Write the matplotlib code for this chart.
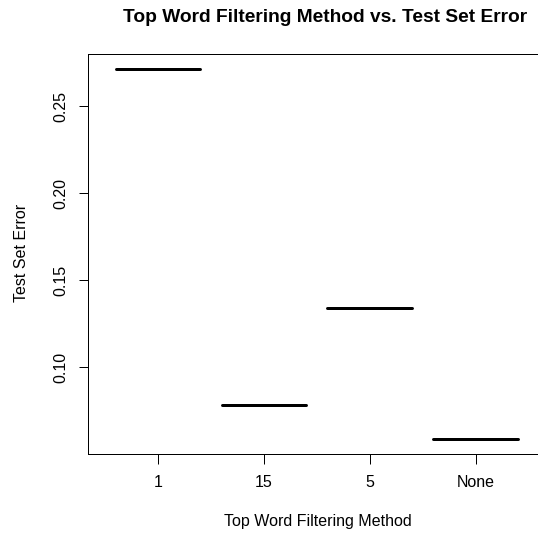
import matplotlib
matplotlib.use("Agg")
import matplotlib.pyplot as plt
import numpy as np

categories = ["1", "15", "5", "None"]
test_error = [0.2714, 0.0783, 0.1343, 0.0588]
y_ticks = [0.10, 0.15, 0.20, 0.25]
y_tick_labels = ["0.10", "0.15", "0.20", "0.25"]

plt.rcParams['font.family'] = ['Liberation Sans', 'DejaVu Sans']

W, H = 538, 537
dpi = 100
fig = plt.figure(figsize=(W / dpi, H / dpi), dpi=dpi)
px = 72.0 / dpi  # points per pixel

left, right, top, bottom = 88.3, 545.5, 54.3, 453.7
ax = fig.add_axes([left / W, 1 - bottom / H, (right - left) / W, (bottom - top) / H])

pos = np.arange(1, len(categories) + 1)
half = 0.4
for p, v in zip(pos, test_error):
    ax.plot([p - half, p + half], [v, v], color="black", lw=3 * px,
            solid_capstyle="round")

n = len(categories)
ax.set_xlim(0.5 - 0.04 * n, n + 0.5 + 0.04 * n)
lo, hi = min(test_error), max(test_error)
r = hi - lo
ax.set_ylim(lo - 0.04 * r, hi + 0.04 * r)

ax.set_xticks(pos)
ax.set_xticklabels(categories)
ax.set_yticks(y_ticks)
ax.set_yticklabels(y_tick_labels, rotation=90, va="center")

fs = 16 * px
ax.tick_params(axis="x", length=10 * px, width=1 * px, pad=11 * px, labelsize=fs)
ax.tick_params(axis="y", length=9 * px, width=1 * px, pad=11 * px, labelsize=fs)
for s in ax.spines.values():
    s.set_linewidth(1 * px)
    s.set_color("black")

fig.text(318.3 / W, 1 - 521.7 / H, "Top Word Filtering Method", ha="center", va="center", fontsize=fs)
fig.text(21.7 / W, 1 - 252.5 / H, "Test Set Error", ha="center", va="center", rotation=90, fontsize=fs)
fig.text(324.6 / W, 1 - 17.8 / H, "Top Word Filtering Method vs. Test Set Error",
         ha="center", va="center", fontsize=19.1 * px, fontweight="bold")

fig.savefig("out.png", dpi=dpi)
